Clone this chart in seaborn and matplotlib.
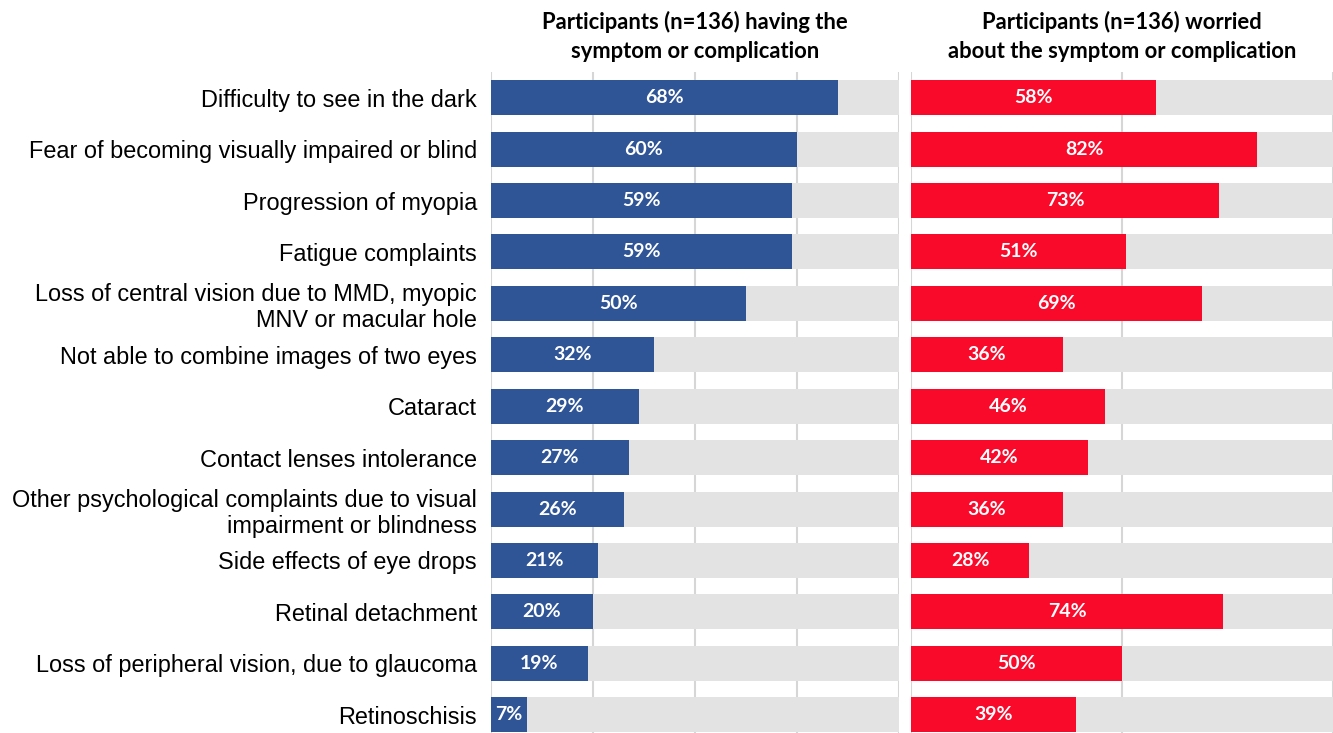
import pandas as pd
import matplotlib.pyplot as plt
import seaborn as sns

# Symptoms / complications, top to bottom
categories = [
    "Difficulty to see in the dark",
    "Fear of becoming visually impaired or blind",
    "Progression of myopia",
    "Fatigue complaints",
    "Loss of central vision due to MMD, myopic\nMNV or macular hole",
    "Not able to combine images of two eyes",
    "Cataract",
    "Contact lenses intolerance",
    "Other psychological complaints due to visual\nimpairment or blindness",
    "Side effects of eye drops",
    "Retinal detachment",
    "Loss of peripheral vision, due to glaucoma",
    "Retinoschisis",
]
having_pct = [68, 60, 59, 59, 50, 32, 29, 27, 26, 21, 20, 19, 7]
worried_pct = [58, 82, 73, 51, 69, 36, 46, 42, 36, 28, 74, 50, 39]
full_scale = [100] * len(categories)

left_title = "Participants (n=136) having the\nsymptom or complication"
right_title = "Participants (n=136) worried\nabout the symptom or complication"

df = pd.DataFrame({"item": categories, "having": having_pct,
                   "worried": worried_pct, "full": full_scale})

sns.set_theme(style="white")
plt.rcParams['font.family'] = ['Liberation Sans', 'DejaVu Sans']

BLUE = "#2F5597"
RED = "#FA0A2A"
GRAY = "#E4E3E3"
GRID = "#D6D6D6"
BAR_H = 0.68

fig = plt.figure(figsize=(13.33, 7.33), dpi=100)
ax_l = fig.add_axes([0.3683, -0.0102, 0.3061, 0.912])
ax_r = fig.add_axes([0.6834, -0.0102, 0.3166, 0.912])

panels = [
    (ax_l, "having", BLUE, left_title, 80, [0, 20, 40, 60, 80]),
    (ax_r, "worried", RED, right_title, 100, [0, 50, 100]),
]

for ax, col, color, title, xmax, grid_ticks in panels:
    for g in grid_ticks:
        ax.axvline(g, color=GRID, lw=1.5, zorder=0)
    sns.barplot(data=df, x="full", y="item", color=GRAY, width=BAR_H,
                saturation=1, linewidth=0, ax=ax, zorder=1)
    sns.barplot(data=df, x=col, y="item", color=color, width=BAR_H,
                saturation=1, linewidth=0, ax=ax, zorder=2)
    for i, v in enumerate(df[col]):
        ax.text(v / 2, i, f"{v}%", ha="center", va="center", color="white",
                fontsize=14, fontweight="bold", family=['Lato', 'DejaVu Sans'],
                zorder=3)
    ax.set_xlim(0, xmax)
    ax.set_ylim(len(categories) - 0.5, -0.5)
    ax.set_xlabel("")
    ax.set_ylabel("")
    ax.set_xticks([])
    for s in ax.spines.values():
        s.set_visible(False)
    ax.set_title(title, fontsize=15.8, fontweight="bold", color="black",
                 family=['Lato', 'DejaVu Sans'], pad=10, linespacing=1.5)

ax_l.tick_params(axis="y", length=0, pad=10, labelsize=16.9, labelcolor="black")
for lab in ax_l.get_yticklabels():
    lab.set_horizontalalignment("right")
    lab.set_multialignment("right")
    lab.set_linespacing(1.2)
ax_r.set_yticks([])

fig.savefig("out.png", dpi=100)
